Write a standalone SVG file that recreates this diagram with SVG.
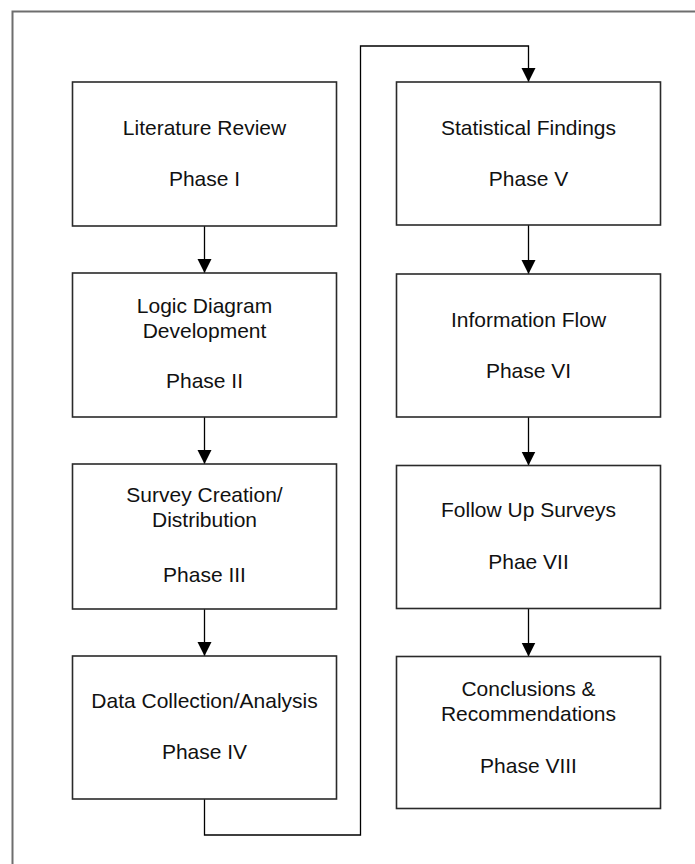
<svg xmlns="http://www.w3.org/2000/svg" width="695" height="864" viewBox="0 0 695 864">
  <style>
    .frame { fill: none; stroke: #6e6e6e; stroke-width: 2; }
    .box { fill: #ffffff; stroke: #2a2a2a; stroke-width: 1.6; }
    .lbl { font-family: "Liberation Sans", Arial, sans-serif; font-size: 21px; fill: #111111; text-anchor: middle; }
    .wire { fill: none; stroke: #000000; stroke-width: 1.3; }
  </style>
  <defs>
    <marker id="arrow" markerUnits="userSpaceOnUse" markerWidth="15" markerHeight="15" refX="14" refY="7" orient="auto">
      <path d="M0,0 L14,7 L0,14 z" fill="#000000"/>
    </marker>
  </defs>

  <rect x="0" y="0" width="695" height="864" fill="#ffffff"/>

  <!-- page frame (left and top edges) -->
  <path class="frame" d="M12.5,864 L12.5,11.5 L695,11.5"/>

  <!-- connectors -->
  <g id="connectors">
    <line class="wire" x1="204.5" y1="226" x2="204.5" y2="273" marker-end="url(#arrow)"/>
    <line class="wire" x1="204.5" y1="417" x2="204.5" y2="464" marker-end="url(#arrow)"/>
    <line class="wire" x1="204.5" y1="609" x2="204.5" y2="656" marker-end="url(#arrow)"/>
    <path class="wire" d="M204.5,799 L204.5,835 L360.5,835 L360.5,46 L528.5,46 L528.5,82" marker-end="url(#arrow)"/>
    <line class="wire" x1="528.5" y1="225" x2="528.5" y2="274" marker-end="url(#arrow)"/>
    <line class="wire" x1="528.5" y1="417" x2="528.5" y2="465.5" marker-end="url(#arrow)"/>
    <line class="wire" x1="528.5" y1="608.5" x2="528.5" y2="656.5" marker-end="url(#arrow)"/>
  </g>

  <!-- left column -->
  <g id="phase1">
    <rect class="box" x="72.5" y="82" width="264" height="144"/>
    <text class="lbl" x="204.5" y="134.5">Literature Review</text>
    <text class="lbl" x="204.5" y="185.5">Phase I</text>
  </g>
  <g id="phase2">
    <rect class="box" x="72.5" y="273" width="264" height="144"/>
    <text class="lbl" x="204.5" y="313">Logic Diagram</text>
    <text class="lbl" x="204.5" y="337.5">Development</text>
    <text class="lbl" x="204.5" y="388">Phase II</text>
  </g>
  <g id="phase3">
    <rect class="box" x="72.5" y="464" width="264" height="145"/>
    <text class="lbl" x="204.5" y="502">Survey Creation/</text>
    <text class="lbl" x="204.5" y="527">Distribution</text>
    <text class="lbl" x="204.5" y="581.5">Phase III</text>
  </g>
  <g id="phase4">
    <rect class="box" x="72.5" y="656" width="264" height="143"/>
    <text class="lbl" x="204.5" y="707.5">Data Collection/Analysis</text>
    <text class="lbl" x="204.5" y="759">Phase IV</text>
  </g>

  <!-- right column -->
  <g id="phase5">
    <rect class="box" x="396.5" y="82" width="264" height="143"/>
    <text class="lbl" x="528.5" y="134.5">Statistical Findings</text>
    <text class="lbl" x="528.5" y="185.5">Phase V</text>
  </g>
  <g id="phase6">
    <rect class="box" x="396.5" y="274" width="264" height="143"/>
    <text class="lbl" x="528.5" y="326.5">Information Flow</text>
    <text class="lbl" x="528.5" y="377.5">Phase VI</text>
  </g>
  <g id="phase7">
    <rect class="box" x="396.5" y="465.5" width="264" height="143"/>
    <text class="lbl" x="528.5" y="517">Follow Up Surveys</text>
    <text class="lbl" x="528.5" y="569">Phae VII</text>
  </g>
  <g id="phase8">
    <rect class="box" x="396.5" y="656.5" width="264" height="152"/>
    <text class="lbl" x="528.5" y="696">Conclusions &amp;</text>
    <text class="lbl" x="528.5" y="721">Recommendations</text>
    <text class="lbl" x="528.5" y="772.5">Phase VIII</text>
  </g>
</svg>
